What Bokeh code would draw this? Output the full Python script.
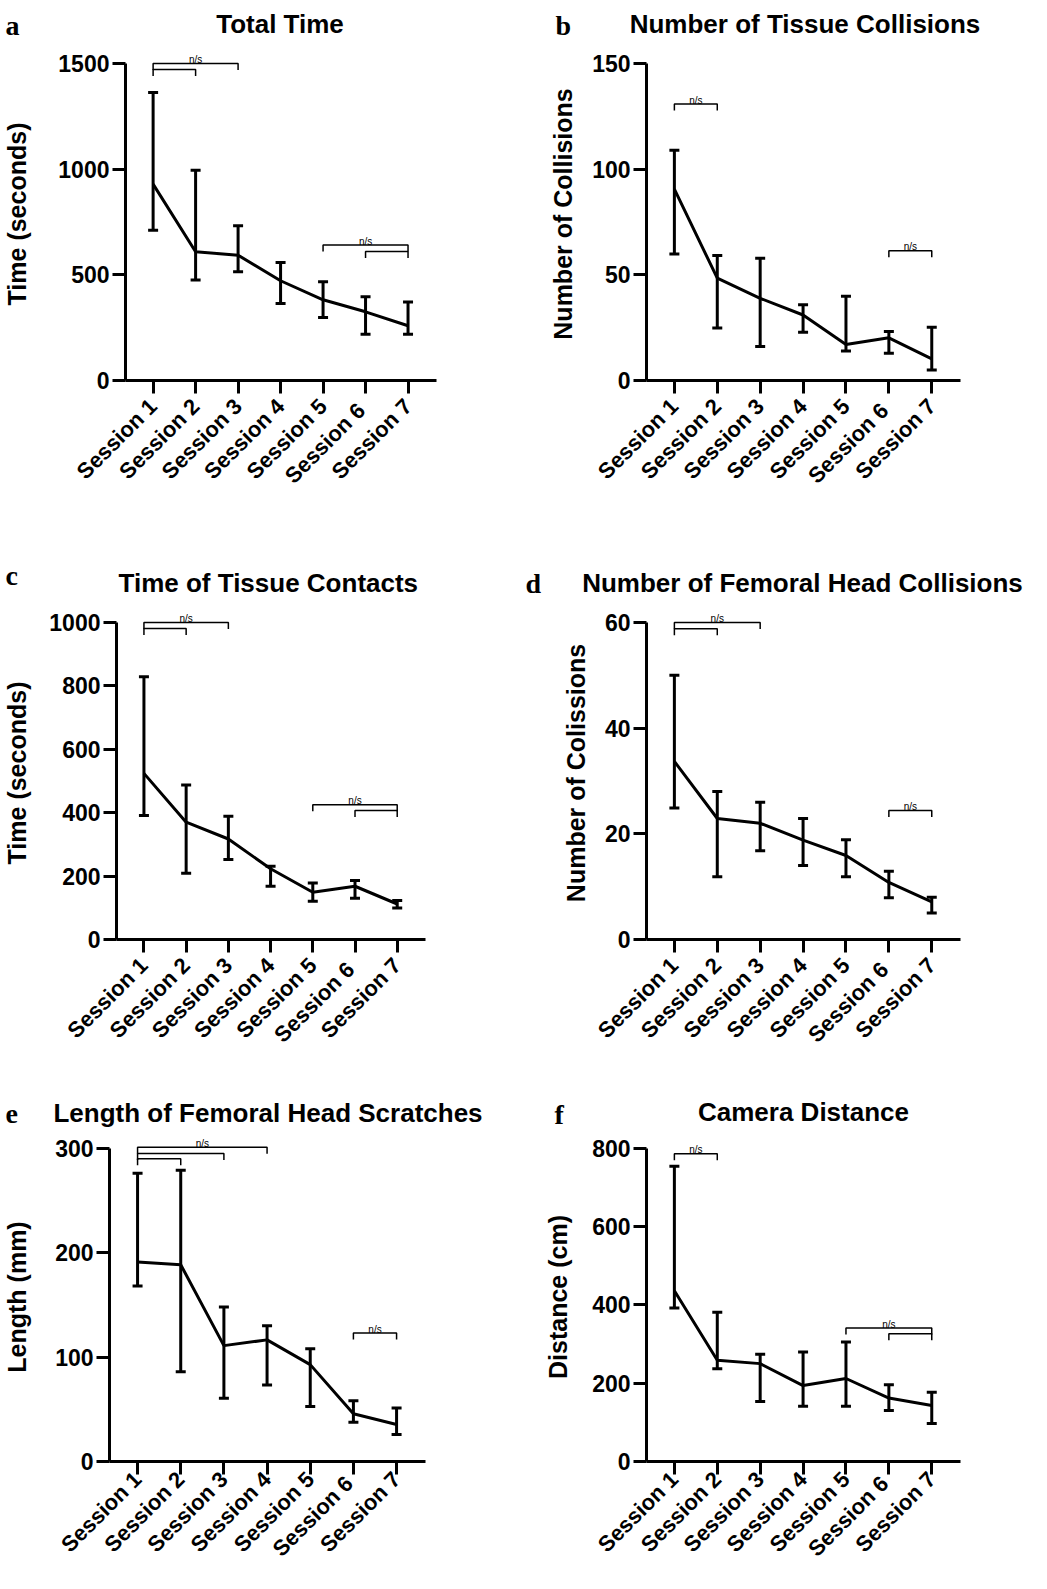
import math
from bokeh.plotting import figure
from bokeh.models import ColumnDataSource, Whisker, TeeHead, FixedTicker, Range1d
from bokeh.core.properties import value
from bokeh.layouts import column, row
from bokeh.embed import file_html
from bokeh.resources import INLINE

# ---------------- data ----------------
sessions = [1, 2, 3, 4, 5, 6, 7]
session_labels = ["Session 1", "Session 2", "Session 3", "Session 4",
                  "Session 5", "Session  6", "Session 7"]

letters = ["a", "b", "c", "d", "e", "f"]
titles = ["Total Time", "Number of Tissue Collisions", "Time of Tissue Contacts",
          "Number of Femoral Head Collisions", "Length of Femoral Head Scratches",
          "Camera Distance"]
ylabels = ["Time (seconds)", "Number of Collisions", "Time (seconds)",
           "Number of Colissions", "Length (mm)", "Distance (cm)"]

yticks_a = [0, 500, 1000, 1500]
yticks_b = [0, 50, 100, 150]
yticks_c = [0, 200, 400, 600, 800, 1000]
yticks_d = [0, 20, 40, 60]
yticks_e = [0, 100, 200, 300]
yticks_f = [0, 200, 400, 600, 800]

mean_a = [929, 609, 593, 472, 382, 325, 259]
upper_a = [1363, 995, 732, 558, 467, 396, 372]
lower_a = [711, 475, 514, 364, 298, 219, 219]

mean_b = [90.6, 48.4, 38.9, 31.0, 17.0, 20.2, 10.2]
upper_b = [109, 59.1, 57.8, 35.9, 39.9, 23.2, 25.2]
lower_b = [59.9, 24.9, 16.1, 22.8, 13.9, 12.9, 5.0]

mean_c = [524, 370, 317, 223, 149, 168, 112]
upper_c = [829, 487, 389, 231, 178, 186, 123]
lower_c = [391, 209, 252, 168, 121, 130, 99]

mean_d = [33.7, 22.9, 22.0, 18.8, 15.9, 10.8, 7.1]
upper_d = [50.0, 28.0, 26.0, 22.9, 18.9, 12.9, 8.0]
lower_d = [24.9, 11.9, 16.8, 14.0, 11.9, 7.9, 5.0]

mean_e = [191, 188.5, 111, 116.5, 92.8, 45.8, 35.4]
upper_e = [276, 279, 148, 130, 108, 58.1, 51.2]
lower_e = [168, 86, 60.6, 73.3, 52.7, 37.6, 25.9]

mean_f = [436, 258.5, 250, 194, 212, 162, 143]
upper_f = [754, 381, 274, 280, 305, 196, 177]
lower_f = [392, 237, 153, 141, 141, 130.5, 97]

# significance brackets: groups of (from session, to session, height)
brackets_a = [[(1, 3, 1500), (1, 2, 1472)], [(5, 7, 641), (6, 7, 610)]]
brackets_b = [[(1, 2, 130.8)], [(6, 7, 61.4)]]
brackets_c = [[(1, 3, 1000), (1, 2, 981)], [(5, 7, 425), (6, 7, 407)]]
brackets_d = [[(1, 3, 60), (1, 2, 58.8)], [(6, 7, 24.4)]]
brackets_e = [[(1, 4, 301), (1, 3, 295), (1, 2, 290)], [(6, 7, 123)]]
brackets_f = [[(1, 2, 786)], [(5, 7, 341), (6, 7, 326)]]
ns_text = "n/s"

# ---------------- layout / style ----------------
DATA_H = 317          # pixels from 0 to top tick
EXTRA = 16            # room above top tick inside the frame
FRAME_H = DATA_H + EXTRA
X_START, X_END = 0.35, 7.67
LEFT_W, RIGHT_W = 512, 518
SANS = "Liberation Sans"
SERIF = "Liberation Serif"

# header strips: height, title centre x / baseline y, letter left x / baseline y
headers = [
    dict(h=44, title_x=[279.5, 804.5], title_y=[23.5, 23.5], letter_x=[5, 555], letter_y=[25, 25]),
    dict(h=57, title_x=[267.8, 802], title_y=[35, 35.7], letter_x=[5, 525], letter_y=[28, 36]),
    dict(h=51, title_x=[267.5, 803], title_y=[33, 32], letter_x=[5, 554], letter_y=[34, 35]),
]
# panel rows: figure height, top border, x tick label standoff
panel_rows = [dict(h=503, top=3, xs=9), dict(h=475, top=2, xs=9), dict(h=443, top=2, xs=1)]


def make_header(k, idx):
    hd = headers[k]
    p = figure(width=LEFT_W + RIGHT_W, height=hd["h"], output_backend="svg",
               toolbar_location=None, tools="", x_axis_type=None, y_axis_type=None,
               x_range=Range1d(0, LEFT_W + RIGHT_W), y_range=Range1d(hd["h"], 0),
               min_border=0)
    p.outline_line_color = None
    p.text(x=hd["title_x"], y=hd["title_y"], text=[titles[i] for i in idx],
           text_font=value(SANS), text_font_style="bold", text_font_size="26px",
           text_align="center", text_baseline="alphabetic", text_color="black")
    p.text(x=hd["letter_x"], y=hd["letter_y"], text=[letters[i] for i in idx],
           text_font=value(SERIF), text_font_style="bold", text_font_size="28px",
           text_align="left", text_baseline="alphabetic", text_color="black")
    return p


def make_panel(i, yticks, mean, upper, lower, brackets, fig_w, prow, left, frame_w,
               ylabel_standoff):
    ymax = yticks[-1]
    per_px = ymax / DATA_H
    fig_h, top = prow["h"], prow["top"]
    p = figure(width=fig_w, height=fig_h, output_backend="svg", toolbar_location=None,
               tools="", x_range=Range1d(X_START, X_END),
               y_range=Range1d(0, ymax + EXTRA * per_px),
               min_border_left=left, min_border_top=top,
               min_border_right=fig_w - left - frame_w,
               min_border_bottom=fig_h - top - FRAME_H)
    p.outline_line_color = None
    p.xgrid.visible = False
    p.ygrid.visible = False

    for ax in (p.xaxis[0], p.yaxis[0]):
        ax.axis_line_width = 3
        ax.axis_line_color = "black"
        ax.major_tick_line_width = 3
        ax.major_tick_line_color = "black"
        ax.major_tick_out = 13
        ax.major_tick_in = 0
        ax.minor_tick_line_color = None
        ax.major_label_text_font = SANS
        ax.major_label_text_font_style = "bold"
        ax.major_label_text_color = "black"

    xa = p.xaxis[0]
    xa.ticker = FixedTicker(ticks=sessions)
    xa.major_label_overrides = {s: l for s, l in zip(sessions, session_labels)}
    xa.major_label_orientation = math.pi / 4
    xa.major_label_standoff = prow["xs"]
    xa.major_label_text_font_size = "22px"

    ya = p.yaxis[0]
    ya.ticker = FixedTicker(ticks=yticks)
    ya.bounds = (0, ymax)
    ya.major_label_standoff = 3
    ya.major_label_text_font_size = "23px"
    ya.axis_label = ylabels[i]
    ya.axis_label_text_font = SANS
    ya.axis_label_text_font_style = "bold"
    ya.axis_label_text_font_size = "25px"
    ya.axis_label_text_color = "black"
    ya.axis_label_standoff = ylabel_standoff

    src = ColumnDataSource(dict(x=sessions, mean=mean, upper=upper, lower=lower))
    p.line("x", "mean", source=src, line_width=3, line_color="black")
    p.add_layout(Whisker(source=src, base="x", upper="upper", lower="lower",
                         line_width=3, line_color="black",
                         upper_head=TeeHead(size=10, line_width=3, line_color="black"),
                         lower_head=TeeHead(size=10, line_width=3, line_color="black")))

    leg = 6.5 * per_px
    xs, ys, tx, ty = [], [], [], []
    for group in brackets:
        for (a, b, h) in group:
            xs.append([a, a, b, b])
            ys.append([h - leg, h, h, h - leg])
        tx.append((min(g[0] for g in group) + max(g[1] for g in group)) / 2)
        ty.append(max(g[2] for g in group) + 4 * per_px)
    p.multi_line(xs, ys, line_width=1.5, line_color="black")
    p.text(x=tx, y=ty, text=[ns_text] * len(tx), text_font=value(SANS),
           text_font_size="10px", text_align="center", text_baseline="alphabetic",
           text_color="black")
    return p


pa = make_panel(0, yticks_a, mean_a, upper_a, lower_a, brackets_a,
                LEFT_W, panel_rows[0], 119, 317, 24)
pb = make_panel(1, yticks_b, mean_b, upper_b, lower_b, brackets_b,
                RIGHT_W, panel_rows[0], 134, 314, 12)
pc = make_panel(2, yticks_c, mean_c, upper_c, lower_c, brackets_c,
                LEFT_W, panel_rows[1], 109, 316, 15)
pd = make_panel(3, yticks_d, mean_d, upper_d, lower_d, brackets_d,
                RIGHT_W, panel_rows[1], 134, 314, 12)
pe = make_panel(4, yticks_e, mean_e, upper_e, lower_e, brackets_e,
                LEFT_W, panel_rows[2], 109, 316, 21)
pf = make_panel(5, yticks_f, mean_f, upper_f, lower_f, brackets_f,
                RIGHT_W, panel_rows[2], 134, 314, 17)

layout = column(make_header(0, [0, 1]), row(pa, pb),
                make_header(1, [2, 3]), row(pc, pd),
                make_header(2, [4, 5]), row(pe, pf))
open("out.html", "w").write(file_html(layout, INLINE))
